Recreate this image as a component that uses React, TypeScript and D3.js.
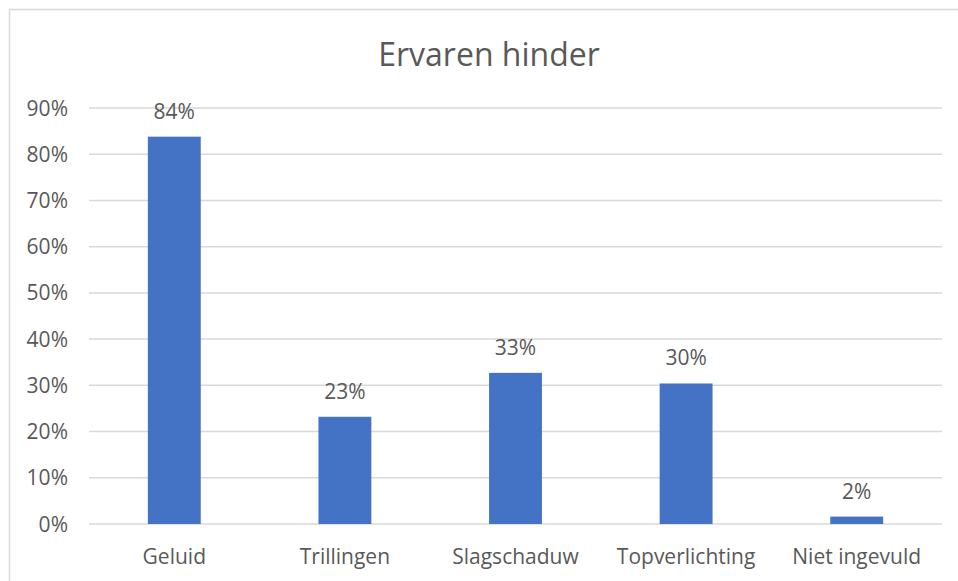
import React from 'react';
import * as d3 from 'd3';

const title = 'Ervaren hinder';
const categories = ['Geluid', 'Trillingen', 'Slagschaduw', 'Topverlichting', 'Niet ingevuld'];
const values = [83.8, 23.2, 32.7, 30.4, 1.6];
const yTicks = [0, 10, 20, 30, 40, 50, 60, 70, 80, 90];

const W = 958;
const H = 581;
const plot = {left: 89, right: 942, top: 108, bottom: 524};
const textColor = '#595959';
const barColor = '#4472c4';
const font = "'Open Sans', sans-serif";

export default function App() {
  const x = d3
    .scaleBand<string>()
    .domain(categories)
    .range([plot.left, plot.right])
    .paddingInner(0.69)
    .paddingOuter(0.345);

  const y = d3.scaleLinear().domain([0, 90]).range([plot.bottom, plot.top]);

  return (
    <svg
      width={W}
      height={H}
      style={{position: 'absolute', left: 0, top: 0, background: '#fff'}}
      fontFamily={font}
    >
      <rect x={9.5} y={9.5} width={W + 20} height={H + 20} fill="#fff" stroke="#d9d9d9" strokeWidth={1.5} />

      <text x={489} y={66} textAnchor="middle" fontSize={32} fill={textColor}>
        {title}
      </text>

      {yTicks.map(t => (
        <g key={t}>
          <line x1={plot.left} x2={plot.right} y1={y(t)} y2={y(t)} stroke="#d9d9d9" strokeWidth={1.5} />
          <text x={68} y={y(t)} dy="0.36em" textAnchor="end" fontSize={21} fill={textColor}>
            {d3.format('d')(t)}%
          </text>
        </g>
      ))}

      {categories.map((c, i) => (
        <g key={c}>
          <rect
            x={x(c)}
            y={y(values[i])}
            width={x.bandwidth()}
            height={y(0) - y(values[i])}
            fill={barColor}
          />
          <text
            x={(x(c) as number) + x.bandwidth() / 2}
            y={y(values[i]) - 18}
            textAnchor="middle"
            fontSize={21}
            fill={textColor}
          >
            {Math.round(values[i])}%
          </text>
          <text
            x={(x(c) as number) + x.bandwidth() / 2}
            y={564}
            textAnchor="middle"
            fontSize={21}
            fill={textColor}
          >
            {c}
          </text>
        </g>
      ))}
    </svg>
  );
}
